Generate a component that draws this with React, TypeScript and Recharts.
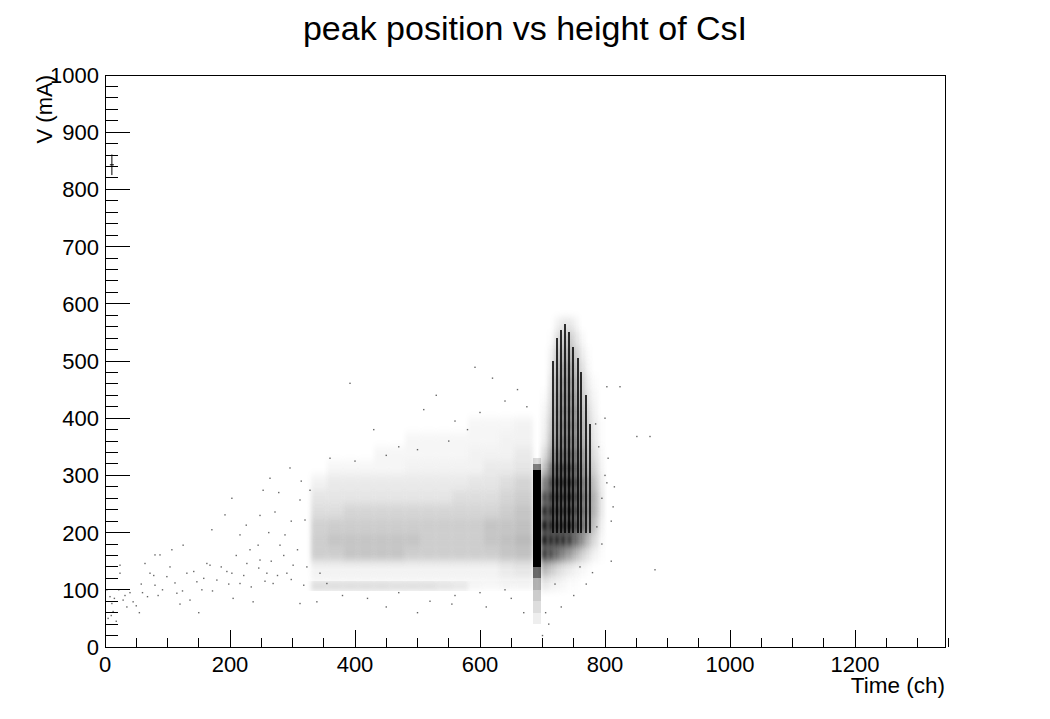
import React from 'react';
import { ScatterChart, Scatter, XAxis, YAxis, ReferenceArea, ErrorBar } from 'recharts';

// binned densities (counts per cell, roughly)
const cloudX = [330, 355, 380, 405, 430, 455, 480, 505, 530, 555, 580, 605, 630, 655, 685];
const cloudY = [102, 110, 125, 150, 175, 200, 225, 250, 275, 300, 325, 350, 375, 400];
const cloudCounts = [
  [15, 15, 15, 15, 15, 14, 14, 14, 12, 10, 3, 2, 3, 3],
  [2, 2, 2, 2, 2, 2, 2, 2, 2, 2, 2, 2, 3, 3],
  [3, 3, 3, 3, 3, 3, 3, 3, 3, 3, 3, 3, 5, 6],
  [12, 12, 14, 14, 14, 14, 12, 12, 12, 12, 12, 12, 14, 15],
  [12, 14, 14, 14, 14, 14, 14, 12, 12, 12, 12, 14, 15, 17],
  [11, 12, 12, 12, 12, 12, 12, 12, 12, 12, 12, 14, 14, 15],
  [8, 8, 10, 10, 10, 10, 10, 10, 10, 10, 10, 10, 12, 14],
  [6, 6, 6, 6, 6, 6, 6, 6, 6, 8, 8, 8, 10, 12],
  [3, 5, 5, 5, 5, 5, 5, 5, 5, 5, 6, 6, 8, 10],
  [0, 2, 2, 2, 2, 2, 3, 3, 3, 3, 3, 5, 5, 6],
  [0, 0, 0, 0, 2, 2, 2, 2, 2, 2, 3, 3, 3, 5],
  [0, 0, 0, 0, 0, 0, 2, 2, 2, 2, 2, 2, 3, 3],
  [0, 0, 0, 0, 0, 0, 0, 0, 0, 0, 2, 2, 2, 3],
];

const peakX = [685, 698];
const peakY = [40, 60, 80, 100, 120, 140, 155, 300, 310, 320, 330];
const peakCounts = [[4], [8], [12], [18], [35], [70], [100], [70], [30], [8]];

const spikeX = [698, 708, 718, 728, 738, 748, 758, 768, 778, 788, 798];
const spikeY = [100, 125, 150, 175, 200, 225, 250, 275, 300, 325, 350, 375, 400, 425, 450, 475, 500, 525, 550, 575];
const spikeCounts = [
  [6, 4, 3, 2, 1, 1, 0, 0, 0, 0],
  [18, 14, 10, 7, 5, 3, 2, 1, 0, 0],
  [50, 48, 40, 32, 25, 18, 12, 7, 3, 1],
  [65, 68, 64, 58, 50, 40, 30, 18, 9, 2],
  [62, 66, 68, 66, 60, 50, 40, 28, 14, 4],
  [56, 62, 68, 68, 62, 52, 42, 32, 18, 6],
  [46, 56, 64, 66, 62, 52, 42, 32, 18, 6],
  [32, 48, 58, 62, 58, 50, 38, 28, 14, 5],
  [16, 34, 48, 54, 52, 44, 32, 20, 10, 3],
  [8, 22, 38, 44, 44, 38, 28, 17, 7, 2],
  [4, 16, 30, 38, 38, 32, 22, 13, 5, 1],
  [3, 13, 28, 36, 36, 30, 20, 11, 4, 1],
  [2, 10, 26, 34, 34, 28, 17, 9, 3, 0],
  [1, 8, 24, 32, 32, 24, 14, 6, 2, 0],
  [0, 6, 20, 29, 29, 20, 11, 4, 1, 0],
  [0, 4, 16, 25, 25, 16, 8, 2, 0, 0],
  [0, 3, 12, 19, 19, 12, 5, 1, 0, 0],
  [0, 1, 7, 13, 13, 7, 2, 0, 0, 0],
  [0, 0, 3, 6, 6, 3, 0, 0, 0, 0],
];

// the vertical stripes inside the spike
const stripeX = [716, 723, 729, 736, 743, 749, 756, 762, 769, 776];
const stripeTop = [500, 540, 555, 565, 550, 525, 505, 480, 440, 390];
const stripeBase = 200;

// sparse single entries
const strayPoints = [
  [24, 129], [29, 82], [11, 76], [13, 62], [35, 70], [45, 79], [64, 146], [72, 129], [80, 108], [88, 161],
  [99, 123], [107, 170], [115, 94], [131, 129], [136, 82], [147, 114], [155, 100], [163, 146], [168, 143], [179, 117],
  [195, 132], [203, 129], [205, 85], [216, 111], [227, 146], [237, 79], [248, 152], [259, 129], [269, 111], [280, 178],
  [291, 129], [301, 143], [312, 76], [323, 140], [339, 79], [344, 129], [355, 111],
  [203, 260], [253, 274], [296, 313], [226, 213], [171, 205], [312, 257], [272, 236], [125, 178], [80, 161],
  [24, 143], [245, 178], [216, 196], [320, 222], [288, 196], [192, 231], [264, 295], [328, 274],
  [5, 50], [3, 100], [18, 45], [55, 60], [60, 95], [85, 90], [120, 75], [150, 60], [8, 88], [40, 95],
  [10, 55], [15, 85], [22, 100], [32, 90], [50, 72], [58, 110], [68, 88], [78, 125], [92, 100], [104, 140],
  [112, 112], [124, 98], [142, 132], [158, 120], [172, 98], [186, 140], [198, 110], [210, 160], [222, 125], [234, 105],
  [246, 138], [256, 115], [266, 150], [276, 125], [286, 160], [298, 118], [308, 170], [318, 108], [262, 200], [232, 170],
  [298, 220], [314, 290], [248, 230], [278, 270],
  [392, 461], [430, 380], [470, 350], [510, 415], [530, 440], [560, 395], [592, 489], [620, 470], [640, 430],
  [660, 450], [675, 420], [600, 410], [580, 380], [550, 360], [500, 345], [450, 335], [400, 325], [360, 330],
  [851, 368], [872, 368], [824, 455], [803, 455], [880, 135], [813, 245], [803, 287], [787, 210],
  [795, 260], [800, 300], [805, 330], [810, 220], [815, 280], [790, 350], [785, 390], [800, 400], [795, 180],
  [810, 150], [780, 130], [770, 110], [750, 90], [730, 70], [710, 40], [700, 20], [705, 60], [720, 110], [760, 140],
  [380, 90], [420, 85], [470, 95], [520, 80], [560, 90], [610, 70], [650, 85], [670, 60], [640, 100], [600, 95],
  [555, 75], [500, 60], [450, 70],
];

const markerPoint = [{ x: 11, y: 843, err: 18 }];

const xMajor = [0, 200, 400, 600, 800, 1000, 1200];
const yMajor = [0, 100, 200, 300, 400, 500, 600, 700, 800, 900, 1000];
const xMax = 1344;
const yMax = 1000;

type Cell = { x1: number; x2: number; y1: number; y2: number; n: number; soft: boolean };

function toCells(xs: number[], ys: number[], counts: number[][], soft: boolean): Cell[] {
  const out: Cell[] = [];
  counts.forEach((row, j) =>
    row.forEach((n, i) => {
      if (n > 0) out.push({ x1: xs[i], x2: xs[i + 1], y1: ys[j], y2: ys[j + 1], n, soft });
    })
  );
  return out;
}

const cells: Cell[] = [
  ...toCells(cloudX, cloudY, cloudCounts, true),
  ...toCells(spikeX, spikeY, spikeCounts, true),
  ...toCells(peakX, peakY, peakCounts, false),
  ...stripeX.map((x, i) => ({ x1: x - 1.6, x2: x + 1.6, y1: stripeBase, y2: stripeTop[i], n: 48, soft: false })),
];

const strayData = strayPoints.map(([x, y]) => ({ x, y }));

// minor ticks subdivide the labelled ones
const xTicks: number[] = [];
for (let i = 0; i < xMajor.length; i++) {
  for (let k = 0; k < 4; k++) xTicks.push(xMajor[i] + k * 50);
}
const yTicks: number[] = [];
for (let i = 0; i < yMajor.length; i++) {
  if (i === yMajor.length - 1) { yTicks.push(yMajor[i]); break; }
  for (let k = 0; k < 5; k++) yTicks.push(yMajor[i] + k * 20);
}

const FONT = '"Liberation Sans", Arial, Helvetica, sans-serif';

const XTick = (props: any) => {
  const { x, y, payload } = props;
  const major = xMajor.includes(payload.value);
  return (
    <g>
      <line x1={x} x2={x} y1={y} y2={y - (major ? 17 : 9)} stroke="#000" shapeRendering="crispEdges" />
      {major && (
        <text x={x} y={y + 25} textAnchor="middle" fontSize={22} fontFamily={FONT} fill="#000">
          {payload.value}
        </text>
      )}
    </g>
  );
};

const YTick = (props: any) => {
  const { x, y, payload } = props;
  const major = yMajor.includes(payload.value);
  return (
    <g>
      <line x1={x} x2={x + (major ? 25 : 13)} y1={y} y2={y} stroke="#000" shapeRendering="crispEdges" />
      {major && (
        <text x={x - 6} y={y + 8} textAnchor="end" fontSize={22} fontFamily={FONT} fill="#000">
          {payload.value}
        </text>
      )}
    </g>
  );
};

const dot = (p: any) => (
  <rect x={p.cx - 0.7} y={p.cy - 0.7} width={1.4} height={1.4} fill="#000" fillOpacity={0.6} />
);

const cross = (p: any) => (
  <g>
    <line x1={p.cx - 2} x2={p.cx + 2} y1={p.cy} y2={p.cy} stroke="#000" />
  </g>
);

export default function App() {
  return (
    <div style={{ position: 'absolute', left: 0, top: 0, width: 1050, height: 719, background: '#fff' }}>
      <svg width={0} height={0} style={{ position: 'absolute' }}>
        <defs>
          <filter id="soft" x="-50%" y="-50%" width="200%" height="200%">
            <feGaussianBlur stdDeviation="2 4" />
          </filter>
        </defs>
      </svg>
      <ScatterChart width={1050} height={719} margin={{ top: 75, right: 105, bottom: 0, left: 0 }}>
        <XAxis
          type="number"
          dataKey="x"
          domain={[0, xMax]}
          ticks={xTicks}
          interval={0}
          allowDataOverflow
          height={72}
          tickSize={0}
          tickMargin={0}
          tickLine={false}
          axisLine={false}
          tick={XTick}
        />
        <YAxis
          type="number"
          dataKey="y"
          domain={[0, yMax]}
          ticks={yTicks}
          interval={0}
          allowDataOverflow
          width={105}
          tickSize={0}
          tickMargin={0}
          tickLine={false}
          axisLine={false}
          tick={YTick}
        />
        {cells.map((c, i) => (
          <ReferenceArea
            key={i}
            x1={c.x1}
            x2={c.x2}
            y1={c.y1}
            y2={c.y2}
            ifOverflow="visible"
            shape={(p: any) => (
              <rect
                x={p.x}
                y={p.y}
                width={p.width}
                height={p.height}
                fill="#000"
                fillOpacity={Math.min(1, c.n / 60)}
                filter={c.soft ? 'url(#soft)' : undefined}
                shapeRendering="crispEdges"
              />
            )}
          />
        ))}
        <Scatter data={strayData} shape={dot} isAnimationActive={false} />
        <Scatter data={markerPoint} shape={cross} isAnimationActive={false}>
          <ErrorBar dataKey="err" direction="y" width={0} stroke="#000" strokeWidth={1} />
        </Scatter>
        <ReferenceArea
          x1={0}
          x2={xMax}
          y1={0}
          y2={yMax}
          ifOverflow="visible"
          fill="none"
          stroke="#000"
          strokeWidth={1}
          fillOpacity={0}
          shapeRendering="crispEdges"
        />
      </ScatterChart>
      <svg width={1050} height={719} style={{ position: 'absolute', left: 0, top: 0, pointerEvents: 'none' }}>
        <text x={525} y={40} textAnchor="middle" fontSize={34} fontFamily={FONT} fill="#000">
          peak position vs height of CsI
        </text>
        <text x={945} y={693} textAnchor="end" fontSize={22.5} fontFamily={FONT} fill="#000">
          Time (ch)
        </text>
        <text x={52} y={75} textAnchor="end" fontSize={22} fontFamily={FONT} fill="#000" transform="rotate(-90 52 75)">
          V (mA)
        </text>
      </svg>
    </div>
  );
}
